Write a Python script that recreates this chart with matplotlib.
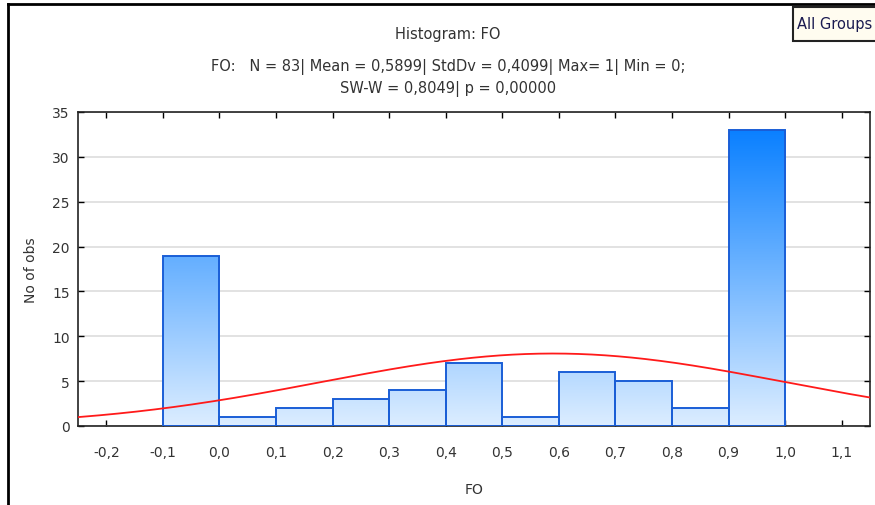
import numpy as np
import matplotlib.pyplot as plt
from matplotlib.colors import LinearSegmentedColormap
from matplotlib.lines import Line2D
from matplotlib.patches import Rectangle

# границы интервалов и частоты
bin_edges = [-0.1, 0.0, 0.1, 0.2, 0.3, 0.4, 0.5, 0.6, 0.7, 0.8, 0.9, 1.0]
counts = [19, 1, 2, 3, 4, 7, 1, 6, 5, 2, 33]
n_obs = 83
mean_fo = 0.5899
std_fo = 0.4099
xtick_vals = [-0.2, -0.1, 0.0, 0.1, 0.2, 0.3, 0.4, 0.5, 0.6, 0.7, 0.8, 0.9, 1.0, 1.1]

plt.rcParams['font.family'] = ['DejaVu Sans']
fs = 10
fs_title = 10.5
txt_color = '#333333'

fig = plt.figure(figsize=(8.75, 5.06), dpi=100)
ax = fig.add_axes([78 / 875, 1 - 427 / 506, (870 - 78) / 875, (427 - 113) / 506])

ymax = 35
cmap = LinearSegmentedColormap.from_list('bars', ['#dcedff', '#0a80ff'])

for i, c in enumerate(counts):
    x0, x1 = bin_edges[i], bin_edges[i + 1]
    grad = np.linspace(0, c / 33.0, 200).reshape(-1, 1)
    im = ax.imshow(grad, extent=[x0, x1, 0, c], origin='lower', aspect='auto',
                   cmap=cmap, vmin=0, vmax=1, zorder=2)
    rect = Rectangle((x0, 0), x1 - x0, c, facecolor='none', edgecolor='#1a5ed6',
                     linewidth=1.4, zorder=3)
    ax.add_patch(rect)
    im.set_clip_path(rect)

# нормальная кривая
xs = np.linspace(-0.25, 1.15, 300)
width = bin_edges[1] - bin_edges[0]
ys = n_obs * width / (std_fo * np.sqrt(2 * np.pi)) * np.exp(-0.5 * ((xs - mean_fo) / std_fo) ** 2)
ax.plot(xs, ys, color='#ff1a1a', linewidth=1.3, zorder=4)

ax.set_xlim(-0.25, 1.15)
ax.set_ylim(0, ymax)
ax.set_xticks(xtick_vals)
ax.set_xticklabels([f'{v:.1f}'.replace('.', ',') for v in xtick_vals], fontsize=fs, color=txt_color)
ax.set_yticks(range(0, 36, 5))
ax.set_yticklabels([str(v) for v in range(0, 36, 5)], fontsize=fs, color=txt_color)
ax.tick_params(direction='in', top=True, right=True, length=4, width=1, pad=6)
ax.tick_params(axis='x', pad=14)
ax.yaxis.grid(True, color='#dddddd', linewidth=1.2)
ax.set_axisbelow(True)
for s in ax.spines.values():
    s.set_linewidth(1.2)
    s.set_color('#222222')

ax.set_xlabel('FO', fontsize=fs, color=txt_color, labelpad=16)
ax.set_ylabel('No of obs', fontsize=fs, color=txt_color, labelpad=10)

cx = 448 / 875
fig.text(cx, 1 - 35 / 506, 'Histogram: FO', ha='center', va='center', fontsize=fs_title, color=txt_color)
fig.text(cx, 1 - 67 / 506,
         'FO:   N = 83| Mean = 0,5899| StdDv = 0,4099| Max= 1| Min = 0;',
         ha='center', va='center', fontsize=fs_title, color=txt_color)
fig.text(cx, 1 - 89 / 506, 'SW-W = 0,8049| p = 0,00000',
         ha='center', va='center', fontsize=fs_title, color=txt_color)

# рамка
fig.add_artist(Line2D([8 / 875, 8 / 875], [0, 1 - 5 / 506], color='black', linewidth=2))
fig.add_artist(Line2D([8 / 875, 1], [1 - 5 / 506, 1 - 5 / 506], color='black', linewidth=2))
fig.add_artist(Rectangle((793 / 875, 1 - 42 / 506), 100 / 875, 34 / 506, transform=fig.transFigure,
                         facecolor='#fffcf0', edgecolor='#222222', linewidth=1.5))
fig.text(797 / 875, 1 - 25 / 506, 'All Groups', ha='left', va='center', fontsize=fs_title, color='#1a1a50')

fig.savefig('out.png', dpi=100)
